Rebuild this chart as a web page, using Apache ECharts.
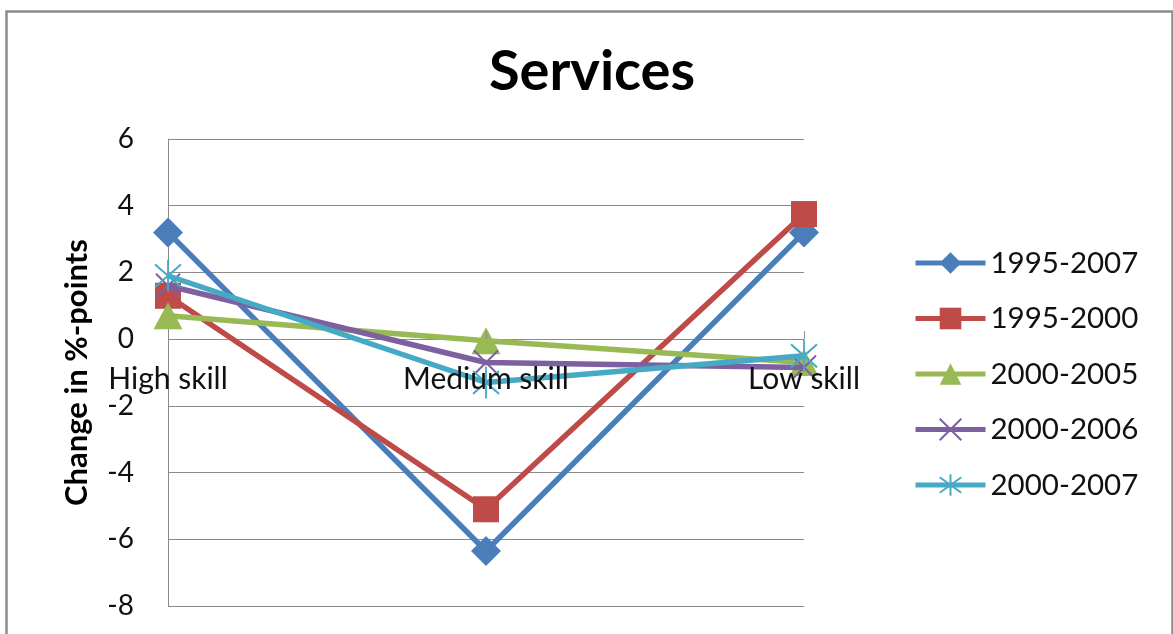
<!DOCTYPE html>
<html>
<head>
<meta charset="utf-8">
<script src="https://cdn.jsdelivr.net/npm/echarts@6/dist/echarts.min.js"></script>
<style>
  html, body { margin: 0; padding: 0; background: #ffffff; }
  #chart { width: 1173px; height: 634px; }
</style>
</head>
<body>
<div id="chart"></div>
<script>
// Skill groups along the x axis
const categories = ['High skill', 'Medium skill', 'Low skill'];

// Change in employment share (%-points) per period
const periods = ['1995-2007', '1995-2000', '2000-2005', '2000-2006', '2000-2007'];
const change_1995_2007 = [3.2, -6.35, 3.2];
const change_1995_2000 = [1.3, -5.1, 3.75];
const change_2000_2005 = [0.7, -0.05, -0.7];
const change_2000_2006 = [1.6, -0.7, -0.85];
const change_2000_2007 = [1.9, -1.3, -0.5];

// Value axis range
const yMin = -8;
const yMax = 6;
const yStep = 2;

const FONT = 'Lato, "Open Sans", sans-serif';
const TEXT = '#111111';
const GRID = '#8a8a8a';
const LABEL_GAP = 25; // distance of category labels below the zero line

// Marker shapes: x-cross and asterisk are open strokes
const CROSS = 'path://M0,0L10,10M10,0L0,10';
const STAR = 'path://M0,2L10,12M10,2L0,12M5,0L5,14';

const styles = [
  { data: change_1995_2007, color: '#4A7EBB', symbol: 'diamond', size: [30, 30], stroke: 0 },
  { data: change_1995_2000, color: '#BE4B48', symbol: 'rect', size: 26, stroke: 0 },
  { data: change_2000_2005, color: '#98B954', symbol: 'triangle', size: [29, 27], stroke: 0 },
  { data: change_2000_2006, color: '#7D60A0', symbol: CROSS, size: [24, 24], stroke: 2 },
  { data: change_2000_2007, color: '#46AAC5', symbol: STAR, size: [26, 32], stroke: 2 }
];

const series = periods.map((name, i) => {
  const s = styles[i];
  return {
    name: name,
    type: 'line',
    data: s.data,
    symbol: s.symbol,
    symbolSize: s.size,
    showAllSymbol: true,
    z: 2 + i,
    lineStyle: { color: s.color, width: 5.5 },
    itemStyle: {
      color: s.stroke ? 'rgba(0,0,0,0)' : s.color,
      borderColor: s.color,
      borderWidth: s.stroke
    },
    emphasis: { disabled: true },
    animation: false
  };
});

const chart = echarts.init(document.getElementById('chart'), null, { renderer: 'canvas' });

const GRID_BOX = { left: 168, right: 369, top: 139, bottom: 28 };

chart.setOption({
  backgroundColor: '#ffffff',
  animation: false,
  title: {
    text: 'Services',
    left: 587,
    textAlign: 'center',
    top: 39,
    textStyle: { fontFamily: FONT, fontWeight: 'bold', fontSize: 56, color: '#000000' }
  },
  graphic: [{
    type: 'rect',
    left: 4,
    top: 9,
    shape: { width: 1166, height: 700 },
    style: { fill: 'none', stroke: '#8c8c8c', lineWidth: 2.5 },
    silent: true
  }],
  grid: Object.assign({ containLabel: false, outerBoundsMode: 'none' }, GRID_BOX),
  legend: {
    orient: 'vertical',
    left: 913,
    top: 248,
    padding: 0,
    itemWidth: 70,
    itemHeight: 27,
    itemGap: 25.5,
    data: periods,
    lineStyle: { width: 5 },
    textStyle: { fontFamily: FONT, fontSize: 29.5, color: TEXT, lineHeight: 27 },
    selectedMode: false
  },
  xAxis: {
    type: 'category',
    data: categories,
    boundaryGap: false,
    z: 20,
    axisLine: { show: false, onZero: true, onZeroAxisIndex: 0 },
    axisTick: { show: true, inside: true, length: 8, alignWithLabel: true, lineStyle: { color: GRID } },
    axisLabel: { fontFamily: FONT, fontSize: 30, color: TEXT, margin: LABEL_GAP, interval: 0 },
    splitLine: { show: false }
  },
  yAxis: {
    type: 'value',
    min: yMin,
    max: yMax,
    interval: yStep,
    name: 'Change in %-points',
    nameLocation: 'middle',
    nameGap: 76,
    nameRotate: 90,
    nameTextStyle: { fontFamily: FONT, fontWeight: 'bold', fontSize: 31, color: '#000000' },
    axisLine: { show: true, lineStyle: { color: GRID, width: 1 } },
    axisTick: { show: false },
    axisLabel: { fontFamily: FONT, fontSize: 28, color: TEXT, margin: 34 },
    splitLine: { show: true, lineStyle: { color: GRID, width: 1 } }
  },
  series: series
});

// Category labels sit just under the zero line: measure where the value
// scale puts zero and pull the labels up from the grid's bottom edge.
const zeroPx = chart.convertToPixel({ yAxisIndex: 0 }, 0);
const bottomPx = chart.convertToPixel({ yAxisIndex: 0 }, yMin);
chart.setOption({ xAxis: { axisLabel: { margin: LABEL_GAP - (bottomPx - zeroPx) } } });
</script>
</body>
</html>
